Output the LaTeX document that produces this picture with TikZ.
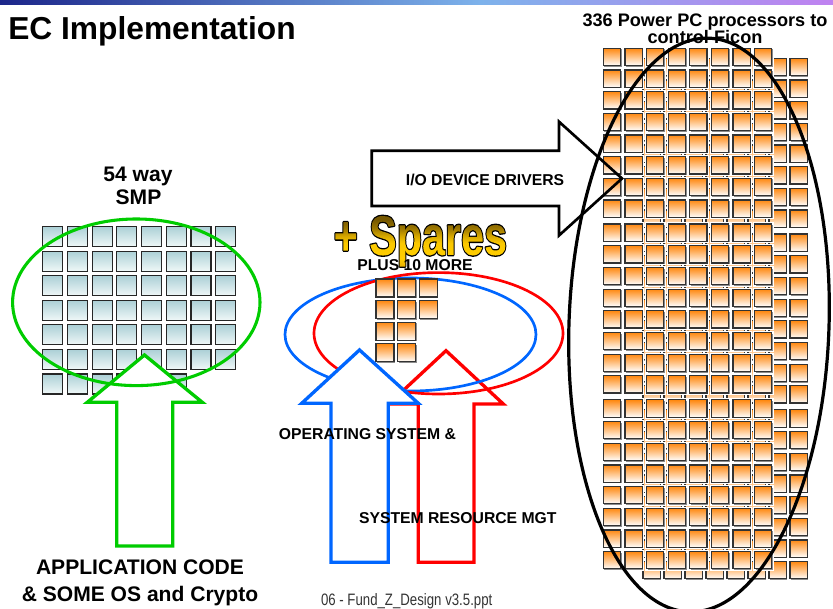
\documentclass[tikz,border=0pt]{standalone}
\usepackage{fontspec}
\setmainfont{Liberation Sans}
\usepackage{graphicx}
\usepackage{tikz}
\definecolor{barnavy}{RGB}{28,38,138}
\definecolor{barblue}{RGB}{125,178,235}
\definecolor{barlilac}{RGB}{192,130,240}
\definecolor{smpgreen}{RGB}{0,204,0}
\definecolor{osblue}{RGB}{0,102,255}
\definecolor{srmred}{RGB}{255,0,0}
\definecolor{smptop}{RGB}{172,208,214}
\definecolor{smpbot}{RGB}{240,248,248}
\definecolor{cputop}{RGB}{255,136,16}
\definecolor{goldA}{RGB}{118,88,0}
\definecolor{goldB}{RGB}{160,122,0}
\definecolor{goldC}{RGB}{214,168,0}
\definecolor{goldD}{RGB}{250,200,0}
\definecolor{goldE}{RGB}{255,206,0}
\definecolor{goldF}{RGB}{228,170,0}
\pgfdeclareverticalshading{sparesgold}{190pt}{color(0pt)=(goldF); color(7.7pt)=(goldE);
  color(19pt)=(goldD); color(24.2pt)=(goldC); color(29.5pt)=(goldB); color(36.2pt)=(goldA);
  color(42pt)=(goldA)}
% outlined text, filled with the gold shading
\newcommand{\sparestext}{\scalebox{0.74}[1]{\fontsize{41.9}{44}\selectfont\bfseries
  \special{pdf:code q 5 Tr 2 w 0 G 1 j}+ Spares\special{pdf:code 0 Tr}%
  \llap{\raisebox{-10pt}{\pgfuseshading{sparesgold}}}\special{pdf:code Q}}}

\begin{document}
\begin{tikzpicture}[x=0.75pt,y=-0.75pt,
  lbl/.style={inner sep=0pt,anchor=base,font=\bfseries\fontsize{11.8}{14}\selectfont},
  big/.style={inner sep=0pt,anchor=base,font=\bfseries\fontsize{15.8}{19}\selectfont},
  ppc/.style={inner sep=0pt,anchor=base,font=\bfseries\fontsize{13.6}{16}\selectfont},
  smpsq/.style={draw=black!85,line width=0.9pt,top color=smptop,bottom color=smpbot},
  cpusq/.style={draw=black!80,line width=0.9pt,top color=cputop,bottom color=white},
  blockarrow/.style={line width=2.5pt,fill=white,line join=miter}]
  \useasboundingbox (0,0) rectangle (833,609);

  % top bar
  \shade[left color=barnavy,right color=barblue] (0,0) rectangle (480,4.7);
  \shade[left color=barblue,right color=barlilac] (480,0) rectangle (833,4.7);
  \node[inner sep=0pt,anchor=base west,font=\bfseries\fontsize{23.8}{28}\selectfont]
    (title) at (8,39.3) {EC Implementation};

  % 54 way SMP
  \node[big] (smpa) at (138,181.7) {54 way};
  \node[big] (smpb) at (138.5,205) {SMP};
  \foreach \r in {0,...,6}
    \foreach \c in {0,...,7}{
      \pgfmathtruncatemacro\n{8*\r+\c}
      \ifnum\n<54
        \draw[smpsq] ({42.7+24.71*\c},{226.7+24.55*\r}) rectangle ++(20,20);
      \fi
    }
  \draw[blockarrow,draw=smpgreen] (144.5,355) -- (202.3,402.3) -- (172.7,402.3)
    -- (172.7,546) -- (116.7,546) -- (116.7,402.3) -- (87.3,402.3) -- cycle;
  \draw[smpgreen,line width=2.3pt] (136.3,302.3) ellipse (123.7 and 83.3);
  \node[big] (appa) at (140,575) {APPLICATION CODE};
  \node[big] (appb) at (140,601.7) {\& SOME OS and Crypto};

  % 336 Power PC processors, back layer then front layer
  \node[ppc] (ppca) at (705,26.7) {336 Power PC processors to};
  \node[ppc] (ppcb) at (705,43.3) {control Ficon};
  \foreach \b in {0,1,2}
    \foreach \r in {0,...,7}
      \foreach \c in {0,...,7}{
        \pgfmathsetmacro\px{643+21*\c}
        \pgfmathsetmacro\py{58.3+175.8*\b+21.67*\r}
        \fill[black!45] (\px+1.1,\py+1.1) rectangle ++(17.3,17.3);
        \draw[cpusq] (\px,\py) rectangle ++(17.3,17.3);
      }
  \foreach \b in {0,1,2}
    \foreach \r in {0,...,7}
      \foreach \c in {0,...,7}{
        \pgfmathsetmacro\px{603.3+21.6*\c}
        \pgfmathsetmacro\py{48.3+175.8*\b+21.67*\r}
        \fill[white] (\px-1.6,\py-1.6) rectangle ++(21,21);
        \fill[black!45] (\px+1.1,\py+1.1) rectangle ++(17.3,17.3);
        \draw[cpusq] (\px,\py) rectangle ++(17.3,17.3);
      }
  \draw[line width=2.4pt,rotate around={-2:(699,325)}] (699,325) ellipse (130 and 287);

  % I/O arrow
  \draw[line width=2pt,line join=miter] (371.7,150.7) -- (559,150.7) -- (559,121.7)
    -- (622,178.5) -- (559,235.5) -- (559,206) -- (371.7,206) -- cycle;
  \node[lbl] (iodd) at (485,186) {I/O DEVICE DRIVERS};

  % + Spares
  \node[inner sep=0pt,anchor=base west] (spares) at (333.3,255) {\sparestext};
  \node[lbl] (plus) at (415,271) {PLUS 10 MORE};

  % OS and SRM
  \draw[blockarrow,draw=srmred] (446,350.7) -- (503.3,404) -- (474,404) -- (474,562.3)
    -- (418.3,562.3) -- (418.3,404) -- (388.7,404) -- cycle;
  \draw[osblue,line width=2pt] (410.5,334.5) ellipse (125.5 and 56.5);
  \draw[srmred,line width=2pt] (438.5,333.3) ellipse (124.5 and 60.7);
  \foreach \r/\n in {0/3,1/3,2/2,3/2}
    \foreach \c in {1,...,\n}{
      \pgfmathsetmacro\px{376+21.65*(\c-1)}
      \pgfmathsetmacro\py{279+21.57*\r}
      \fill[black!45] (\px+1.1,\py+1.1) rectangle ++(18,18);
      \draw[cpusq] (\px,\py) rectangle ++(18,18);
    }
  \draw[blockarrow,draw=osblue] (359.5,350) -- (418.3,403.3) -- (388.3,403.3) -- (388.3,562.3)
    -- (331,562.3) -- (331,403.3) -- (301.7,403.3) -- cycle;
  \node[lbl] (os) at (367.5,440) {OPERATING SYSTEM \&};
  \node[lbl] (srm) at (457.8,524) {SYSTEM RESOURCE MGT};

  \node[inner sep=0pt,anchor=base,text=black!80,font=\fontsize{12.4}{14}\selectfont]
    (foot) at (406.7,606) {\scalebox{0.8}[1]{06 - Fund\_Z\_Design v3.5.ppt}};
\end{tikzpicture}
\end{document}
